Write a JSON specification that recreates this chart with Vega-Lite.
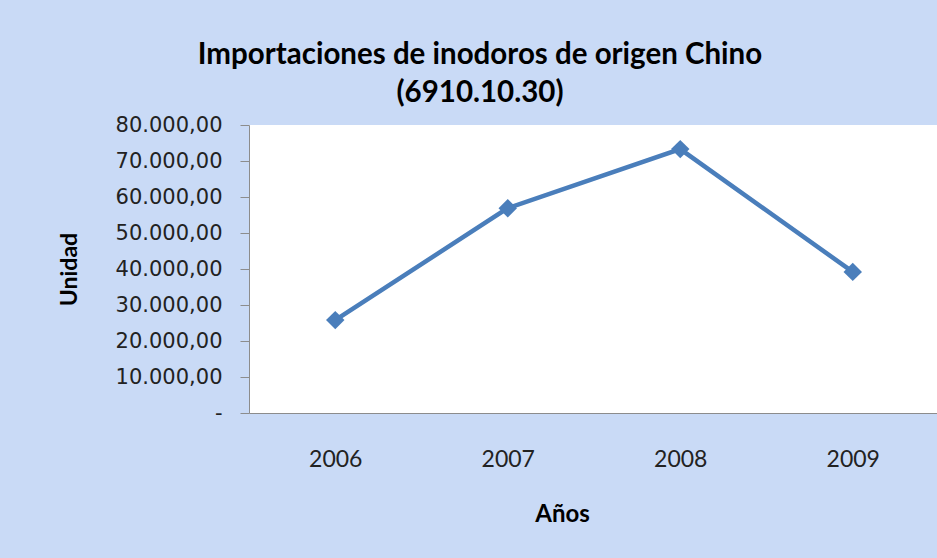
{
  "$schema": "https://vega.github.io/schema/vega-lite/v6.json",
  "width": 690,
  "height": 288,
  "autosize": {"type": "none"},
  "padding": {"left": 249, "top": 125, "right": 0, "bottom": 145},
  "background": "#c9daf6",
  "config": {
    "view": {"fill": "white", "stroke": null},
    "font": "Lato",
    "locale": {"number": {"decimal": ",", "thousands": ".", "grouping": [3], "currency": ["", ""]}}
  },
  "title": {
    "text": ["Importaciones de inodoros de origen Chino", "(6910.10.30)"],
    "fontSize": 29.5,
    "fontWeight": "bold",
    "color": "#000000",
    "lineHeight": 38,
    "anchor": "middle",
    "dx": -114,
    "offset": 6,
    "font": "Lato"
  },
  "data": {
    "values": [
      {"year": "2006", "value": 25800},
      {"year": "2007", "value": 56900},
      {"year": "2008", "value": 73300},
      {"year": "2009", "value": 39200}
    ]
  },
  "encoding": {
    "x": {
      "field": "year",
      "type": "ordinal",
      "scale": {"type": "point", "padding": 0.5},
      "axis": {
        "title": "Años",
        "labelAngle": 0,
        "labelFontSize": 23,
        "labelColor": "#222222",
        "labelPadding": 35,
        "ticks": false,
        "domainColor": "#8c8c8c",
        "domainWidth": 1,
        "titleFontSize": 24,
        "titleFontWeight": "bold",
        "titleColor": "#000000",
        "titleX": 313,
        "titleY": 89,
        "grid": false
      }
    },
    "y": {
      "field": "value",
      "type": "quantitative",
      "scale": {"domain": [0, 80000]},
      "axis": {
        "title": "Unidad",
        "values": [0, 10000, 20000, 30000, 40000, 50000, 60000, 70000, 80000],
        "format": ",.2f",
        "labelExpr": "datum.value === 0 ? '-' : datum.label",
        "labelFont": "DejaVu Sans",
        "labelFontSize": 21,
        "labelColor": "#222222",
        "labelPadding": 18,
        "tickSize": 9,
        "tickColor": "#8c8c8c",
        "domainColor": "#8c8c8c",
        "grid": false,
        "titleFontSize": 23,
        "titleFontWeight": "bold",
        "titleColor": "#000000",
        "titleX": -168,
        "titleY": 144,
        "titleAngle": -90
      }
    }
  },
  "layer": [
    {
      "mark": {"type": "line", "color": "#4a7ebb", "strokeWidth": 4.5}
    },
    {
      "mark": {"type": "point", "shape": "diamond", "filled": true, "size": 340, "color": "#4a7ebb", "opacity": 1}
    }
  ]
}
